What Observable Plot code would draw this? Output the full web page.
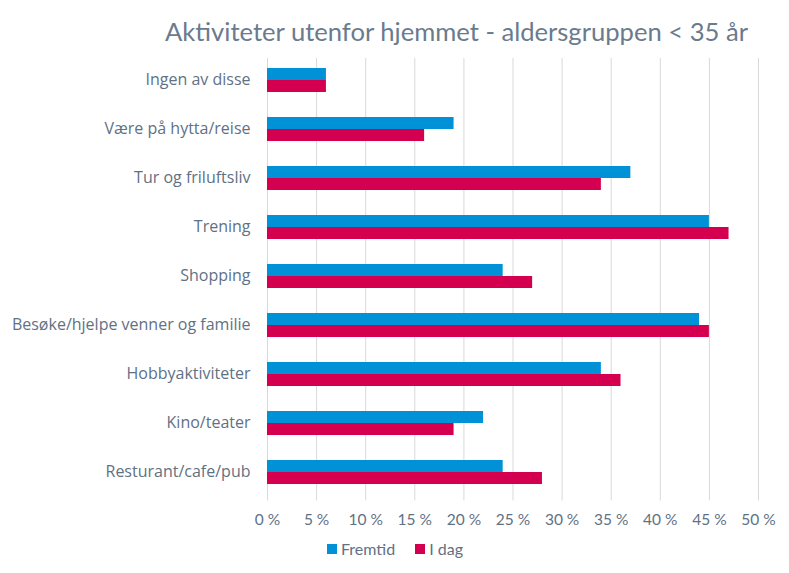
<!DOCTYPE html>
<html>
<head>
<meta charset="utf-8">
<script src="https://cdn.jsdelivr.net/npm/d3@7"></script>
<script src="https://cdn.jsdelivr.net/npm/@observablehq/plot@0.6"></script>
<style>
  body { margin: 0; background: #fff; }
  #wrap { position: relative; width: 789px; height: 573px; font-family: Lato, "Open Sans", sans-serif; color: #5f7185; }
  #wrap svg { position: absolute; left: 0; top: 0; }
  #title { position: absolute; left: 0; width: 789px; top: 16px; text-align: left; padding-left: 165px; box-sizing: border-box; font-size: 25.6px; color: #6a7b8e; white-space: nowrap; }
  #legend { position: absolute; top: 539px; left: 327px; font-size: 16px; color: #5f7185; display: flex; align-items: center; gap: 6px; }
  #legend .sw { display: inline-block; width: 10px; height: 10px; }
</style>
</head>
<body>
<div id="wrap">
  <div id="bg"></div>
  <div id="fg"></div>
  <div id="title">Aktiviteter utenfor hjemmet - aldersgruppen &lt; 35 år</div>
  <div id="legend"></div>
</div>
<script>
const categories = ["Ingen av disse", "Være på hytta/reise", "Tur og friluftsliv", "Trening", "Shopping", "Besøke/hjelpe venner og familie", "Hobbyaktiviteter", "Kino/teater", "Resturant/cafe/pub"];
const seriesNames = ["Fremtid", "I dag"];
const fremtid = [6, 19, 37, 45, 24, 44, 34, 22, 24];
const idag = [6, 16, 34, 47, 27, 45, 36, 19, 28];
const xTicks = [0, 5, 10, 15, 20, 25, 30, 35, 40, 45, 50];
const colors = ["#0091d6", "#d4004f"];

const data = categories.flatMap((c, i) => [
  {category: c, series: seriesNames[0], value: fremtid[i]},
  {category: c, series: seriesNames[1], value: idag[i]}
]);

const W = 789, H = 573;
const xMargins = {marginLeft: 267, marginRight: 31};

const bg = Plot.plot({
  width: W, height: H, ...xMargins, marginTop: 58, marginBottom: 72.6,
  style: {background: "transparent", fontFamily: "Lato, 'Open Sans', sans-serif", fontSize: "15.5px", color: "#5f7185"},
  x: {domain: [0, 50], label: null},
  y: {domain: [0, 1], axis: null},
  marks: [
    Plot.ruleX(xTicks, {stroke: "#d9d9d9", strokeWidth: 1}),
    Plot.axisX({ticks: xTicks, tickFormat: d => d + " %", tickSize: 0, tickPadding: 13, label: null, fill: "#5f7185"})
  ]
});

const fg = Plot.plot({
  width: W, height: H, ...xMargins, marginTop: 65, marginBottom: 87.5,
  style: {background: "transparent", fontFamily: "'Open Sans', Lato, sans-serif", fontSize: "16px", color: "#5f7185"},
  x: {domain: [0, 50], axis: null},
  fy: {domain: categories, paddingInner: 0.486, paddingOuter: 0, label: null, axis: null},
  y: {domain: seriesNames, padding: 0, axis: null},
  color: {domain: seriesNames, range: colors},
  marks: [
    Plot.barX(data, {fy: "category", y: "series", x: "value", fill: "series"}),
    Plot.axisFy({anchor: "left", tickSize: 0, tickPadding: 17, label: null, fill: "#5f7185"})
  ]
});

document.getElementById("bg").appendChild(bg);
document.getElementById("fg").appendChild(fg);

const legend = document.getElementById("legend");
seriesNames.forEach((s, i) => {
  const item = document.createElement("span");
  item.style.display = "inline-flex";
  item.style.alignItems = "center";
  item.style.gap = "4px";
  item.style.marginRight = i === 0 ? "14px" : "0";
  const sw = document.createElement("span");
  sw.className = "sw";
  sw.style.background = colors[i];
  const t = document.createElement("span");
  t.textContent = s;
  item.appendChild(sw);
  item.appendChild(t);
  legend.appendChild(item);
});
</script>
</body>
</html>
